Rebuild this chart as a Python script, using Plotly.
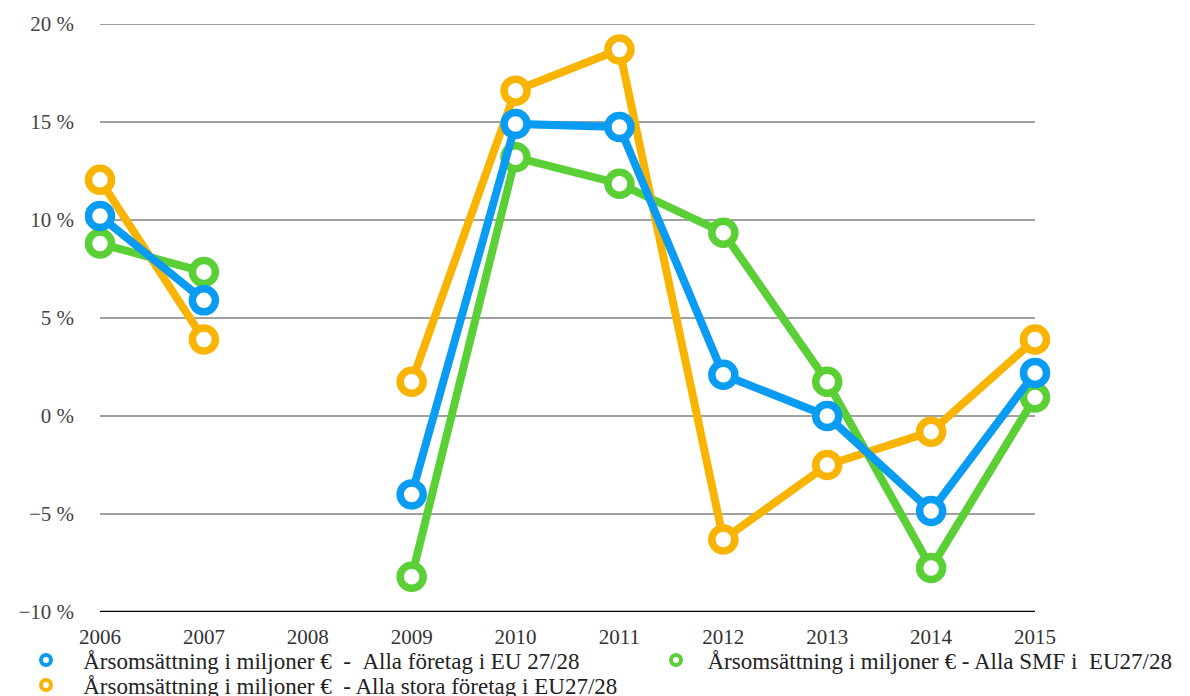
import plotly.graph_objects as go

years = [2006, 2007, 2008, 2009, 2010, 2011, 2012, 2013, 2014, 2015]
alla = [10.2, 5.9, None, -4.0, 14.9, 14.75, 2.1, 0.0, -4.85, 2.2]
stora = [12.05, 3.9, None, 1.75, 16.6, 18.7, -6.3, -2.5, -0.8, 3.9]
smf = [8.8, 7.35, None, -8.2, 13.2, 11.85, 9.35, 1.75, -7.75, 0.95]

NB = "\u00a0"
names = {
    "alla": "Årsomsättning i miljoner €" + NB + " - " + NB + "Alla företag i EU 27/28",
    "smf": "Årsomsättning i miljoner € - Alla SMF i " + NB + "EU27/28",
    "stora": "Årsomsättning i miljoner €" + NB + " - Alla stora företag i EU27/28",
}
colors = {"alla": "#0a9cf2", "stora": "#f8b400", "smf": "#5bcf36"}

ytickvals = [-10, -5, 0, 5, 10, 15, 20]
yticktext = ["−10 %", "−5 %", "0 %", "5 %", "10 %", "15 %", "20 %"]

fig = go.Figure()
series = [("smf", smf), ("stora", stora), ("alla", alla)]
for key, vals in series:
    fig.add_trace(go.Scatter(
        x=years, y=vals, mode="lines+markers", name=names[key],
        showlegend=False, connectgaps=False, cliponaxis=False,
        line=dict(color=colors[key], width=8),
        marker=dict(symbol="circle", size=23, color="white",
                    line=dict(color=colors[key], width=7.5)),
    ))

legend_ids = {"alla": "legend", "smf": "legend2", "stora": "legend3"}
pads = {"alla": 3, "smf": 2, "stora": 3}
for key in ["alla", "smf", "stora"]:
    fig.add_trace(go.Scatter(
        x=[None], y=[None], mode="markers",
        name=NB * pads[key] + names[key], legend=legend_ids[key],
        marker=dict(symbol="circle", size=10, color="white",
                    line=dict(color=colors[key], width=4)),
    ))

font_family = "Liberation Serif, Times New Roman, serif"
leg_common = dict(orientation="h", xref="container", yref="container",
                  xanchor="left", yanchor="middle",
                  font=dict(family=font_family, size=23, color="#222222"),
                  bgcolor="rgba(0,0,0,0)")
W, H = 1182, 688
fig.update_layout(
    width=W, height=H,
    margin=dict(l=92, r=155, t=16, b=84, autoexpand=False),
    plot_bgcolor="white", paper_bgcolor="white",
    font=dict(family=font_family, size=21, color="#333333"),
    xaxis=dict(
        range=[2006, 2015], tickmode="array", tickvals=years,
        ticktext=[str(y) for y in years], showgrid=False, zeroline=False,
        showline=False, ticks="", tickfont=dict(size=21, color="#333333"),
        ticklabelstandoff=10, automargin=False,
    ),
    yaxis=dict(
        range=[-10, 20], tickmode="array", tickvals=ytickvals,
        ticktext=yticktext, showgrid=True, gridcolor="#a0a0a0", gridwidth=2,
        zeroline=False, showline=False, ticks="",
        tickfont=dict(size=21, color="#444444"), ticklabelstandoff=25,
        automargin=False,
    ),
    legend=dict(leg_common, x=18 / W, y=1 - 652 / H),
    legend2=dict(leg_common, x=648 / W, y=1 - 652 / H),
    legend3=dict(leg_common, x=18 / W, y=1 - 677 / H),
    shapes=[
        dict(type="line", xref="paper", yref="y", x0=0, x1=1, y0=20, y1=20,
             line=dict(color="#a0a0a0", width=2), layer="below"),
        dict(type="line", xref="paper", yref="y", x0=0, x1=1, y0=-10, y1=-10,
             line=dict(color="black", width=2.5), layer="below"),
    ],
)

fig.write_html("out.html")
